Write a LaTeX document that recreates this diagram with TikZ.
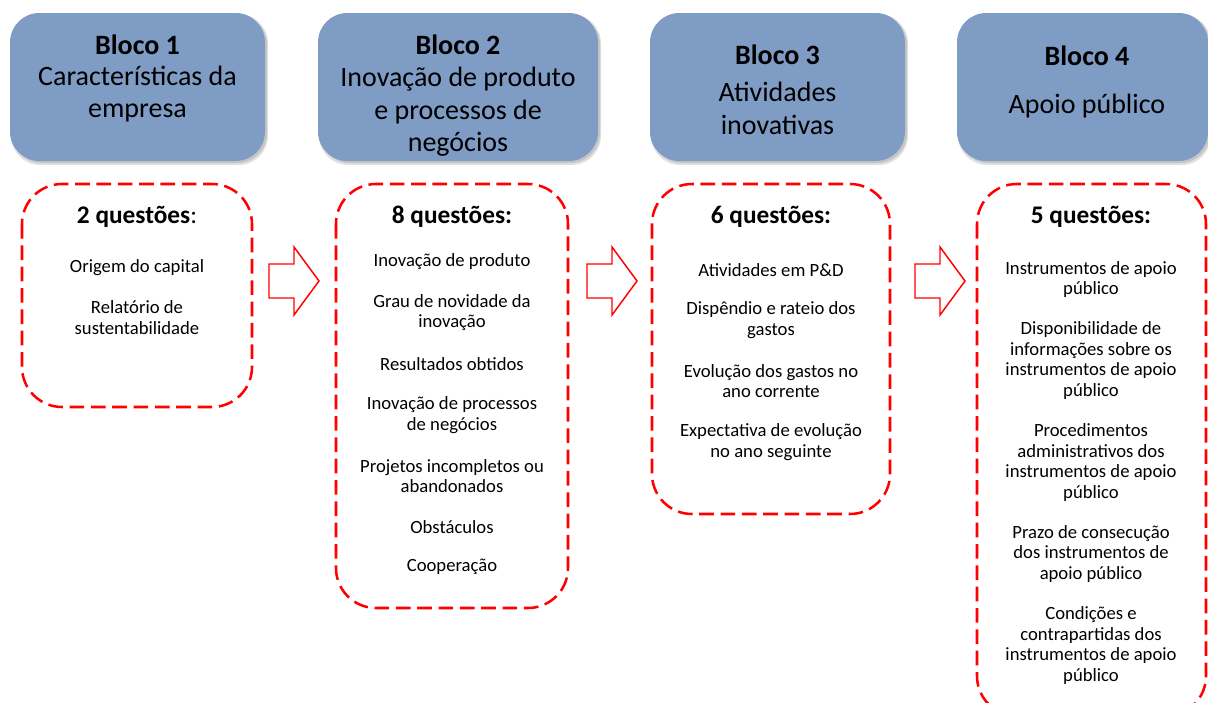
\documentclass[tikz,border=0pt]{standalone}
\usepackage{fontspec}
\setmainfont{Carlito}
\definecolor{hdr}{RGB}{127,156,196}
\definecolor{dred}{RGB}{255,0,0}
\tikzset{
  hdrbox/.style={fill=hdr, rounded corners=22pt},
  hdrshadow/.style={fill=black, opacity=0.12, rounded corners=22pt},
  qbox/.style={draw=dred, line width=1.9pt, dash pattern=on 11pt off 5pt, rounded corners=30pt},
  barrow/.style={draw=dred, line width=1.1pt, fill=white, line join=miter},
  htitle/.style={font=\fontsize{21}{24.4}\selectfont\bfseries, inner sep=0pt},
  hsub/.style={font=\fontsize{21}{24.4}\selectfont, align=center, inner sep=0pt},
  qhead/.style={font=\fontsize{19}{22}\selectfont\bfseries, inner sep=0pt},
  item/.style={font=\fontsize{14}{15.4}\selectfont, align=center, inner sep=0pt},
}
\begin{document}
\begin{tikzpicture}[x=0.75pt,y=-0.75pt]
\useasboundingbox (0,0) rectangle (1208,703);
% header shadows and boxes
\foreach \xa/\xb in {10/265, 318/598, 650/905, 957/1208}{
  \fill[hdrshadow] (\xa+1,14) rectangle (\xb+3,165);
  \fill[hdrshadow] (\xa+2,15) rectangle (\xb+2,163);
  \fill[hdrbox] (\xa,13) rectangle (\xb,161);
}
% header texts
\node[htitle] (h1t) at (137.5,45) {Bloco 1};
\node[hsub] (h1s) at (137.5,94) {Características da\\empresa};
\node[htitle] (h2t) at (458,45) {Bloco 2};
\node[hsub] (h2s) at (458,112) {Inovação de produto\\e processos de\\negócios};
\node[htitle] (h3t) at (777.5,55) {Bloco 3};
\node[hsub] (h3s) at (777.5,108.5) {Atividades\\inovativas};
\node[htitle] (h4t) at (1087,56) {Bloco 4};
\node[hsub] (h4s) at (1087,106.5) {Apoio público};
% dashed question boxes
\draw[qbox] (22,184) rectangle (252,407);
\draw[qbox] (336,184) rectangle (568,608);
\draw[qbox] (652,184) rectangle (890,514);
\draw[qbox] (977,184) rectangle (1206,716);
% block arrows
\foreach \xo in {269, 587, 915}{
  \draw[barrow] (\xo,264) -- (\xo+25,264) -- (\xo+25,247) -- (\xo+50,281)
     -- (\xo+25,315) -- (\xo+25,298) -- (\xo,298) -- cycle;
}
% box 1
\node[qhead] (q1) at (137,217) {2 questões\textmd{:}};
\node[item] (b1a) at (137,268) {Origem do capital};
\node[item] (b1b) at (137,317.5) {Relatório de\\sustentabilidade};
% box 2
\node[qhead] (q2) at (452,217) {8 questões:};
\node[item] (b2a) at (452,262) {Inovação de produto};
\node[item] (b2b) at (452,312.5) {Grau de novidade da\\inovação};
\node[item] (b2c) at (452,364) {Resultados obtidos};
\node[item] (b2d) at (452,415) {Inovação de processos\\de negócios};
\node[item] (b2e) at (452,476) {Projetos incompletos ou\\abandonados};
\node[item] (b2f) at (452,527) {Obstáculos};
\node[item] (b2g) at (452,567) {Cooperação};
% box 3
\node[qhead] (q3) at (771,217) {6 questões:};
\node[item] (b3a) at (771,270) {Atividades em P\&D};
\node[item] (b3b) at (771,320) {Dispêndio e rateio dos\\gastos};
\node[item] (b3c) at (771,381) {Evolução dos gastos no\\ano corrente};
\node[item] (b3d) at (771,442) {Expectativa de evolução\\no ano seguinte};
% box 4
\node[qhead] (q4) at (1091,217) {5 questões:};
\node[item] (b4a) at (1091,279.5) {Instrumentos de apoio\\público};
\node[item] (b4b) at (1091,360.5) {Disponibilidade de\\informações sobre os\\instrumentos de apoio\\público};
\node[item] (b4c) at (1091,462.5) {Procedimentos\\administrativos dos\\instrumentos de apoio\\público};
\node[item] (b4d) at (1091,554) {Prazo de consecução\\dos instrumentos de\\apoio público};
\node[item] (b4e) at (1091,645.5) {Condições e\\contrapartidas dos\\instrumentos de apoio\\público};
\end{tikzpicture}
\end{document}
